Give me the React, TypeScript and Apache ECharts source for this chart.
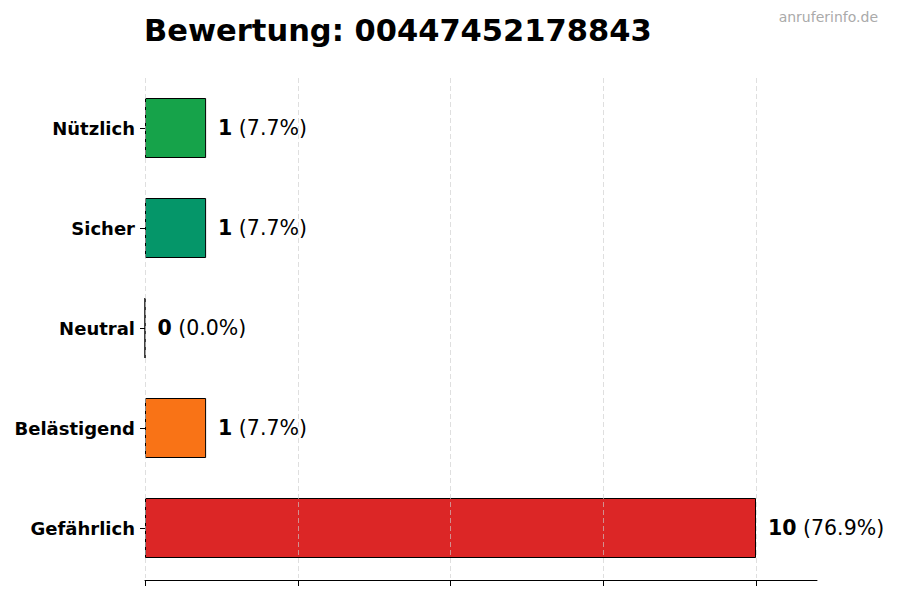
import { useEffect, useRef } from "react";
import * as echarts from "echarts";

const categories = ["Nützlich", "Sicher", "Neutral", "Belästigend", "Gefährlich"];
const counts = [1, 1, 0, 1, 10];
const barColors = ["#16a34a", "#059669", "#6b7280", "#f97316", "#dc2626"];
const phoneNumber = "00447452178843";

const FONT = "DejaVu Sans";

export default function App() {
  const chartRef = useRef<HTMLDivElement>(null);

  useEffect(() => {
    if (!chartRef.current) return;
    const chart = echarts.init(chartRef.current, null, { renderer: "svg" });

    const total = counts.reduce((a, b) => a + b, 0);

    chart.setOption({
      animation: false,
      backgroundColor: "#ffffff",
      textStyle: { fontFamily: FONT },
      title: [
        {
          text: `Bewertung: ${phoneNumber}`,
          left: 139,
          top: 10,
          textStyle: { fontFamily: FONT, fontSize: 30.5, fontWeight: "bold", color: "#000000" },
        },
        {
          text: "anruferinfo.de",
          right: 17,
          top: 5,
          textStyle: { fontFamily: FONT, fontSize: 14, fontWeight: "normal", color: "#aaaaaa" },
        },
      ],
      // grid 0 holds the bars (0..10), grid 1 only draws the longer axis spine (0..11)
      grid: [
        { left: 145, top: 78, width: 611, height: 500 },
        { left: 145, top: 78, width: 672, height: 500 },
      ],
      xAxis: [
        {
          type: "value",
          gridIndex: 0,
          min: 0,
          max: 10,
          interval: 2.5,
          z: 3,
          offset: 2,
          axisLine: { show: false },
          axisTick: { show: true, length: 6, lineStyle: { color: "#000000" } },
          axisLabel: { show: false },
          splitLine: {
            show: true,
            lineStyle: { color: "#cccccc", type: [5, 3], width: 0.8, opacity: 0.8 },
          },
        },
        {
          type: "value",
          gridIndex: 1,
          min: 0,
          max: 11,
          offset: 2,
          axisLine: { show: true, lineStyle: { color: "#000000", width: 1 } },
          axisTick: { show: false },
          axisLabel: { show: false },
          splitLine: { show: false },
        },
      ],
      yAxis: [
        {
          type: "category",
          gridIndex: 0,
          data: categories,
          inverse: true,
          axisLine: { show: false },
          axisTick: { show: true, length: 5, alignWithLabel: true, lineStyle: { color: "#000000" } },
          axisLabel: {
            fontFamily: FONT,
            fontSize: 18,
            fontWeight: "bold",
            color: "#000000",
            margin: 10,
          },
          splitLine: { show: false },
        },
        {
          type: "category",
          gridIndex: 1,
          data: categories,
          show: false,
        },
      ],
      series: [
        {
          type: "bar",
          xAxisIndex: 0,
          yAxisIndex: 0,
          barWidth: 60,
          data: counts.map((v, i) => ({
            value: v,
            itemStyle: { color: barColors[i], borderColor: "#000000", borderWidth: 1 },
          })),
          label: {
            show: true,
            position: "right",
            distance: 12,
            formatter: (p: any) =>
              `{b|${p.value}}{n| (${((p.value / total) * 100).toFixed(1)}%)}`,
            rich: {
              b: { fontFamily: FONT, fontSize: 20.5, fontWeight: "bold", color: "#000000" },
              n: { fontFamily: FONT, fontSize: 20.5, color: "#000000" },
            },
          },
        },
      ],
    });

    return () => chart.dispose();
  }, []);

  return (
    <div
      ref={chartRef}
      style={{ position: "absolute", left: 0, top: 0, width: 900, height: 600 }}
    />
  );
}
